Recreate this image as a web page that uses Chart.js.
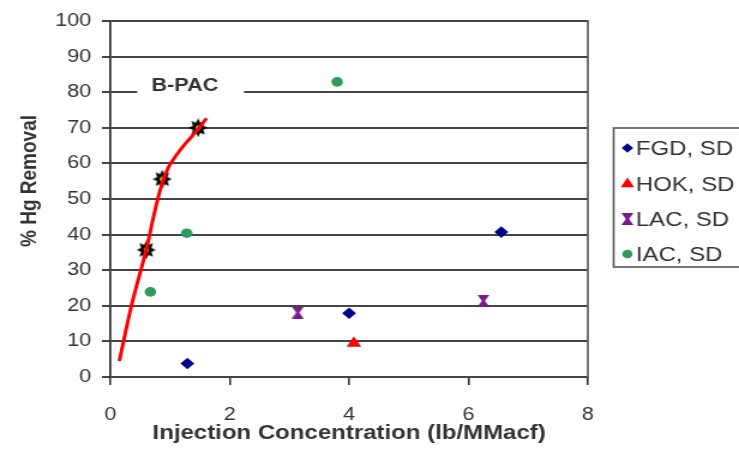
<!DOCTYPE html>
<html>
<head>
<meta charset="utf-8">
<script src="https://cdn.jsdelivr.net/npm/chart.js@4.4.1/dist/chart.umd.min.js"></script>
<style>
  body { margin: 0; background: #fff; }
  canvas { display: block; }
</style>
</head>
<body>
<canvas id="chart" width="616" height="463" style="width:739px;height:463px"></canvas>
<script>
// the original picture is stretched sideways, so the canvas is drawn narrow and widened by css
const seriesNames = ['FGD, SD', 'HOK, SD', 'LAC, SD', 'IAC, SD'];

const fgdX = [1.29, 4.0, 6.55];
const fgdY = [3.8, 17.9, 40.7];
const hokX = [4.08];
const hokY = [9.5];
const lacX = [3.14, 6.25];
const lacY = [18.1, 21.4];
const iacX = [0.67, 1.28, 3.8];
const iacY = [23.9, 40.4, 82.9];
const bpacX = [0.6, 0.87, 1.47];
const bpacY = [35.7, 55.6, 70.0];

// red B-PAC curve
const curveX = [0.15, 0.36, 0.6, 0.75, 0.87, 0.97, 1.1, 1.27, 1.47, 1.61];
const curveY = [4.5, 20.5, 35.7, 47.0, 54.5, 58.8, 62.2, 65.8, 69.6, 72.7];

const xTicks = [0, 2, 4, 6, 8];
const yTicks = [0, 10, 20, 30, 40, 50, 60, 70, 80, 90, 100];

const toPoints = (xs, ys) => xs.map((x, i) => ({ x, y: ys[i] }));

function makeHourglass(color) {
  const c = document.createElement('canvas');
  c.width = 10; c.height = 12;
  const g = c.getContext('2d');
  g.fillStyle = color;
  g.beginPath();
  g.moveTo(0, 0); g.lineTo(10, 0); g.lineTo(6.3, 6);
  g.lineTo(10, 12); g.lineTo(0, 12); g.lineTo(3.7, 6);
  g.closePath();
  g.fill();
  return c;
}

function makeStar() {
  const c = document.createElement('canvas');
  c.width = 16; c.height = 19;
  const g = c.getContext('2d');
  g.translate(8, 9.5);
  g.scale(0.84, 1);
  g.fillStyle = '#000';
  g.beginPath();
  for (let i = 0; i < 16; i++) {
    const r = i % 2 ? 5.5 : 9.5;
    const a = i * Math.PI / 8 - Math.PI / 2;
    g.lineTo(Math.cos(a) * r, Math.sin(a) * r);
  }
  g.closePath();
  g.fill();
  g.fillStyle = '#d4c400';
  g.beginPath();
  g.arc(0, 0, 2.6, 0, Math.PI * 2);
  g.fill();
  return c;
}

const lacImg = makeHourglass('#7a1a8c');
const starImg = makeStar();

const extras = {
  id: 'extras',
  afterDraw(chart) {
    const { ctx, chartArea, scales } = chart;
    ctx.save();

    // right frame line
    ctx.strokeStyle = '#555';
    ctx.lineWidth = 1.6;
    ctx.beginPath();
    ctx.moveTo(chartArea.right, chartArea.top - 1);
    ctx.lineTo(chartArea.right, chartArea.bottom + 1);
    ctx.stroke();

    // B-PAC label over the 80 line
    const x0 = scales.x.getPixelForValue(0.45);
    const x1 = scales.x.getPixelForValue(2.24);
    const yl = scales.y.getPixelForValue(80);
    ctx.fillStyle = '#fff';
    ctx.fillRect(x0, yl - 14, x1 - x0, 20);
    ctx.fillStyle = '#333';
    ctx.font = 'bold 18px "Liberation Sans", Arial, sans-serif';
    ctx.textAlign = 'center';
    ctx.textBaseline = 'middle';
    ctx.fillText('B-PAC', scales.x.getPixelForValue(1.25), scales.y.getPixelForValue(81.6));

    // y axis title
    ctx.save();
    ctx.translate(25, 181);
    ctx.rotate(-Math.PI / 2);
    ctx.font = 'bold 19px "Liberation Sans", Arial, sans-serif';
    ctx.fillStyle = '#333';
    ctx.fillText('% Hg Removal', 0, 0);
    ctx.restore();

    // legend box, its right side runs off the picture
    ctx.strokeStyle = '#555';
    ctx.lineWidth = 1.6;
    ctx.strokeRect(511.5, 128, 140, 139);
    const rows = [148, 184, 219, 254];
    ctx.font = '20px "Liberation Sans", Arial, sans-serif';
    ctx.textAlign = 'left';
    ctx.textBaseline = 'middle';
    chart.data.datasets.filter(d => d.inLegend).forEach((d, i) => {
      const y = rows[i];
      const style = {
        pointStyle: d.pointStyle,
        radius: d.legendRadius,
        rotation: 0,
        borderWidth: 0
      };
      ctx.fillStyle = d.backgroundColor;
      ctx.strokeStyle = d.backgroundColor;
      Chart.helpers.drawPoint(ctx, style, 523, y);
      ctx.fillStyle = '#333';
      ctx.fillText(d.label, 530, y + 1);
    });

    ctx.restore();
  }
};

new Chart(document.getElementById('chart'), {
  type: 'scatter',
  data: {
    datasets: [
      {
        label: 'B-PAC fit',
        type: 'line',
        data: toPoints(curveX, curveY),
        borderColor: '#ff0000',
        borderWidth: 3,
        pointRadius: 0,
        tension: 0.4,
        fill: false,
        order: 0
      },
      {
        label: 'B-PAC',
        data: toPoints(bpacX, bpacY),
        pointStyle: starImg,
        order: 1
      },
      {
        label: seriesNames[0],
        data: toPoints(fgdX, fgdY),
        pointStyle: 'rectRot',
        pointRadius: 5.8,
        backgroundColor: '#00008b',
        borderColor: '#00008b',
        borderWidth: 0,
        inLegend: true,
        legendRadius: 4.8,
        order: 2
      },
      {
        label: seriesNames[1],
        data: toPoints(hokX, hokY),
        pointStyle: 'triangle',
        pointRadius: 7,
        backgroundColor: '#ff0000',
        borderColor: '#ff0000',
        borderWidth: 0,
        inLegend: true,
        legendRadius: 6.5,
        order: 2
      },
      {
        label: seriesNames[2],
        data: toPoints(lacX, lacY),
        pointStyle: lacImg,
        backgroundColor: '#7a1a8c',
        borderColor: '#7a1a8c',
        inLegend: true,
        legendRadius: 5,
        order: 2
      },
      {
        label: seriesNames[3],
        data: toPoints(iacX, iacY),
        pointStyle: 'circle',
        pointRadius: 4.8,
        backgroundColor: '#2e9a5e',
        borderColor: '#2e9a5e',
        borderWidth: 0,
        inLegend: true,
        legendRadius: 4.3,
        order: 2
      }
    ]
  },
  options: {
    responsive: false,
    devicePixelRatio: 1,
    animation: false,
    layout: { padding: { top: 21, right: 126, left: 0, bottom: 0 } },
    plugins: {
      legend: { display: false },
      tooltip: { enabled: false }
    },
    scales: {
      x: {
        type: 'linear',
        min: 0,
        max: 8,
        afterBuildTicks: s => { s.ticks = xTicks.map(v => ({ value: v })); },
        afterFit: s => { s.height = 86; },
        grid: { drawOnChartArea: false, tickLength: 8, color: '#333', lineWidth: 1.6 },
        border: { display: false },
        ticks: {
          padding: 19,
          color: '#333',
          font: { family: '"Liberation Sans", Arial, sans-serif', size: 18 }
        },
        title: {
          display: true,
          text: 'Injection Concentration (lb/MMacf)',
          color: '#333',
          padding: { top: 0, bottom: 18 },
          font: { family: '"Liberation Sans", Arial, sans-serif', size: 20, weight: 'bold' }
        }
      },
      y: {
        min: 0,
        max: 100,
        afterBuildTicks: s => { s.ticks = yTicks.map(v => ({ value: v })); },
        afterFit: s => { s.width = 92; },
        grid: { color: '#444', lineWidth: 2, tickLength: 7 },
        border: { display: true, color: '#333', width: 1.8 },
        ticks: {
          padding: 9,
          color: '#333',
          font: { family: '"Liberation Sans", Arial, sans-serif', size: 18 }
        }
      }
    }
  },
  plugins: [extras]
});
</script>
</body>
</html>
